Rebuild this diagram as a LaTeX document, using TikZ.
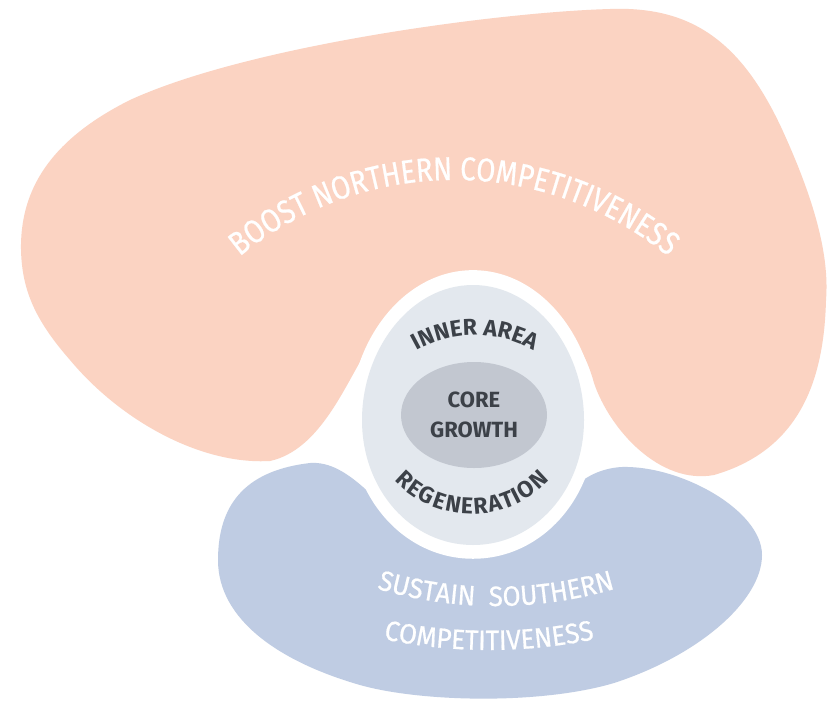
\documentclass[tikz,border=0pt]{standalone}
\usepackage{fontspec}
\setmainfont{Fira Sans}
\newfontfamily\peachfont[FakeStretch=0.84,FakeBold=0.6]{Fira Sans}
\newfontfamily\slatefont[FakeStretch=0.93,FakeBold=0.6]{Fira Sans}
\newfontfamily\inkfont{Fira Sans}
\usetikzlibrary{shapes.geometric,decorations.text}

\definecolor{peach}{HTML}{FBD3C2}
\definecolor{slate}{HTML}{BFCCE3}
\definecolor{eggfill}{HTML}{E3E8EE}
\definecolor{corefill}{HTML}{C2C7D0}
\definecolor{ink}{HTML}{3C4148}

% outline of the inner area, reused for the white rim
\newcommand{\eggpath}{(473,285) .. controls (536,285) and (584,350) .. (584,420)
  .. controls (584,490) and (535,545) .. (473,545)
  .. controls (411,545) and (362,490) .. (362,420)
  .. controls (362,350) and (410,285) .. (473,285) -- cycle}

\begin{document}
\begin{tikzpicture}[x=1pt, y=-1pt,
    arctext/.style n args={2}{decorate, decoration={text along path, text align=center, text color=#1, text={#2}}},
    core/.style={ellipse, fill=corefill, minimum width=146, minimum height=106, inner sep=0, align=center, text=ink}]
    \fill[white] (0,0) rectangle (834,702);
    \useasboundingbox (0,0) rectangle (834,702);

    % north
    \fill[peach] (21,250) .. controls (20,190) and (50,140) .. (130,100)
        .. controls (250,45) and (500,12) .. (610,9)
        .. controls (690,6) and (740,40) .. (781,127)
        .. controls (810,190) and (830,250) .. (826,300)
        .. controls (824,380) and (800,450) .. (714,475)
        .. controls (660,485) and (610,430) .. (594,383)
        .. controls (580,330) and (540,290) .. (473,290)
        .. controls (430,290) and (390,315) .. (367,350)
        .. controls (345,385) and (320,450) .. (270,461)
        .. controls (200,465) and (120,420) .. (70,360)
        .. controls (35,320) and (22,290) .. (21,250) -- cycle;
    % south
    \fill[slate] (218,560) .. controls (218,500) and (250,470) .. (310,463)
        .. controls (350,460) and (380,510) .. (420,537)
        .. controls (450,555) and (500,560) .. (540,530)
        .. controls (560,500) and (580,470) .. (621,467)
        .. controls (680,465) and (762,510) .. (762,555)
        .. controls (762,600) and (700,655) .. (614,683)
        .. controls (540,705) and (420,702) .. (360,685)
        .. controls (280,662) and (218,620) .. (218,560) -- cycle;

    % inner area with white rim
    \fill[white, scale around={1.11:(473,420)}] \eggpath;
    \fill[eggfill] \eggpath;
    \node[core, font=\inkfont\bfseries\fontsize{22}{30}\selectfont] (growth) at (474,415) {CORE\\GROWTH};

    \path[arctext={ink}{|\inkfont\bfseries\fontsize{23}{23}\selectfont|INNER AREA}]
        (475,453) ++(-150:118) arc[start angle=-150, end angle=-30, radius=118];
    % baseline pushed out so the letters spread along the bottom
    \path[arctext={ink}{|\inkfont\bfseries\fontsize{23}{23}\selectfont|REGENERATION}, decoration={raise=-10pt}]
        (472,408) ++(160:96) arc[start angle=160, end angle=20, radius=96];

    \path[arctext={white}{|\peachfont\fontsize{33}{33}\selectfont|BOOST NORTHERN COMPETITIVENESS}]
        (454,518) ++(-140:338) arc[start angle=-140, end angle=-40, radius=338];
    \path[arctext={white}{|\slatefont\fontsize{28}{28}\selectfont|SUSTAIN{\hspace{14pt}}SOUTHERN}]
        (496,188) ++(110:418) arc[start angle=110, end angle=70, radius=418];
    \path[arctext={white}{|\slatefont\fontsize{28}{28}\selectfont|COMPETITIVENESS}]
        (489,131) ++(105:519) arc[start angle=105, end angle=75, radius=519];
\end{tikzpicture}
\end{document}
